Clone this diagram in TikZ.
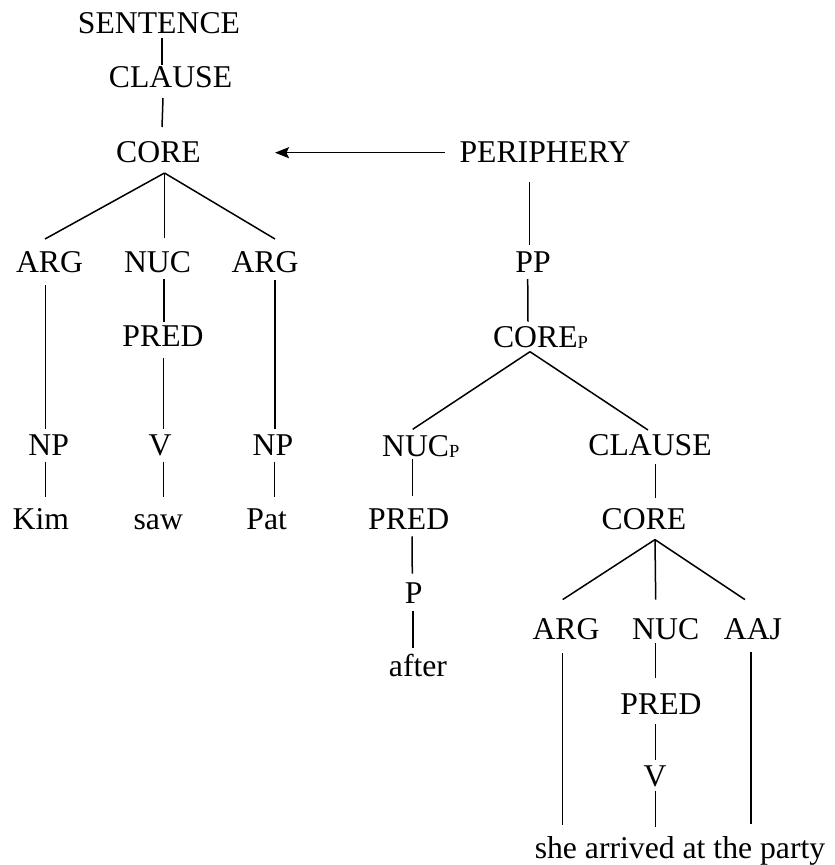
\documentclass[tikz,border=0pt]{standalone}
\usepackage{fontspec}
\setmainfont{Liberation Serif}
\usetikzlibrary{arrows.meta}
\newcommand{\subP}{\raisebox{-1pt}{\fontsize{18.5}{20}\selectfont P}}
\begin{document}
\begin{tikzpicture}[x=1pt,y=-1pt,
  lbl/.style={anchor=base,inner sep=0pt,font=\fontsize{31.7}{38}\selectfont},
  edge/.style={line width=1.5pt},
  sh/.style={shift={#1}}]
\useasboundingbox (0,0) rectangle (835,865);
% nodes
\node[lbl] (sen) at (159,33) {SENTENCE};
\node[lbl] (cl1) at (170.5,87) {CLAUSE};
\node[lbl] (core1) at (158.5,162) {CORE};
\node[lbl] (peri) at (545,162) {PERIPHERY};
\node[lbl] (arg1) at (49.5,272) {ARG};
\node[lbl] (nuc1) at (157.5,272) {NUC};
\node[lbl] (arg2) at (265,272) {ARG};
\node[lbl] (pp) at (533,272) {PP};
\node[lbl] (pred1) at (163,346) {PRED};
\node[lbl] (corep) at (540.5,347) {CORE\subP};
\node[lbl] (np1) at (48.7,455.5) {NP};
\node[lbl] (v1) at (160,455.5) {V};
\node[lbl] (np2) at (273,455.5) {NP};
\node[lbl] (nucp) at (420.8,456) {NUC\subP};
\node[lbl] (cl2) at (650,455) {CLAUSE};
\node[lbl] (kim) at (40.8,529.3) {Kim};
\node[lbl] (saw) at (158.3,529.3) {saw};
\node[lbl] (pat) at (266.7,529.3) {Pat};
\node[lbl] (pred2) at (408.7,529.3) {PRED};
\node[lbl] (core2) at (644,529.3) {CORE};
\node[lbl] (p) at (413.7,603.3) {P};
\node[lbl] (arg3) at (566,639.3) {ARG};
\node[lbl] (nuc2) at (665.7,639.3) {NUC};
\node[lbl] (aaj) at (753,639.3) {AAJ};
\node[lbl] (after) at (418,676) {after};
\node[lbl] (pred3) at (661,714.3) {PRED};
\node[lbl] (v2) at (655,786.7) {V};
\node[lbl] (bot) at (680,858) {she arrived at the party};
% connectors
\draw[edge] ([sh={(3,5)}]sen.base) -- ([sh={(-8.5,-22)}]cl1.base);
\draw[edge] ([sh={(-7.5,11)}]cl1.base) -- ([sh={(3.5,-35)}]core1.base);
\draw[edge] ([sh={(6,11)}]core1.base) -- ([sh={(-4.5,-33)}]arg1.base);
\draw[edge] ([sh={(6,11)}]core1.base) -- ([sh={(7,-34)}]nuc1.base);
\draw[edge] ([sh={(6,11)}]core1.base) -- ([sh={(10,-33)}]arg2.base);
\draw[edge] ([sh={(-3.8,13)}]arg1.base) -- ([sh={(-3,-26.5)}]np1.base);
\draw[edge] ([sh={(6.5,7)}]nuc1.base) -- ([sh={(1,-24)}]pred1.base);
\draw[edge] ([sh={(0.7,12)}]pred1.base) -- ([sh={(3.7,-26.5)}]v1.base);
\draw[edge] ([sh={(10,8)}]arg2.base) -- ([sh={(2,-26.5)}]np2.base);
\draw[edge] ([sh={(-3,6.2)}]np1.base) -- ([sh={(4.9,-32.6)}]kim.base);
\draw[edge] ([sh={(3.3,6.2)}]v1.base) -- ([sh={(5,-32.6)}]saw.base);
\draw[edge] ([sh={(1.3,6.2)}]np2.base) -- ([sh={(7.6,-32.6)}]pat.base);
\draw[edge,-{Stealth[length=14pt,width=11pt,inset=2.5pt]}] ([sh={(-100,-9.3)}]peri.base) -- ([sh={(116.5,-9.3)}]core1.base);
\draw[edge] ([sh={(-15.7,20)}]peri.base) -- ([sh={(-3.7,-27)}]pp.base);
\draw[edge] ([sh={(-5.3,7)}]pp.base) -- ([sh={(-12.5,-25.3)}]corep.base);
\draw[edge] ([sh={(-10.5,4.7)}]corep.base) -- ([sh={(-8.1,-26.7)}]nucp.base);
\draw[edge] ([sh={(-10.5,4.7)}]corep.base) -- ([sh={(-2,-25)}]cl2.base);
\draw[edge] ([sh={(-8.1,3)}]nucp.base) -- ([sh={(4,-33)}]pred2.base);
\draw[edge] ([sh={(5.7,9)}]cl2.base) -- ([sh={(11.7,-31.3)}]core2.base);
\draw[edge] ([sh={(3.3,7)}]pred2.base) -- ([sh={(-1.4,-29.7)}]p.base);
\draw[edge] ([sh={(-0.7,7.7)}]p.base) -- ([sh={(-5,-27.7)}]after.base);
\draw[edge] ([sh={(11,10.3)}]core2.base) -- ([sh={(-3.3,-39.7)}]arg3.base);
\draw[edge] ([sh={(11,10.3)}]core2.base) -- ([sh={(-10,-39.7)}]nuc2.base);
\draw[edge] ([sh={(11,10.3)}]core2.base) -- ([sh={(-8,-39.7)}]aaj.base);
\draw[edge] ([sh={(-3.3,13.7)}]arg3.base) -- ([sh={(-117.3,-33)}]bot.base);
\draw[edge] ([sh={(-10,3.7)}]nuc2.base) -- ([sh={(-5.3,-36)}]pred3.base);
\draw[edge] ([sh={(-5.3,10)}]pred3.base) -- ([sh={(0.7,-27)}]v2.base);
\draw[edge] ([sh={(0.7,4.7)}]v2.base) -- ([sh={(-24.3,-31.3)}]bot.base);
\draw[edge] ([sh={(-2,12.7)}]aaj.base) -- ([sh={(71,-34)}]bot.base);
\end{tikzpicture}
\end{document}
